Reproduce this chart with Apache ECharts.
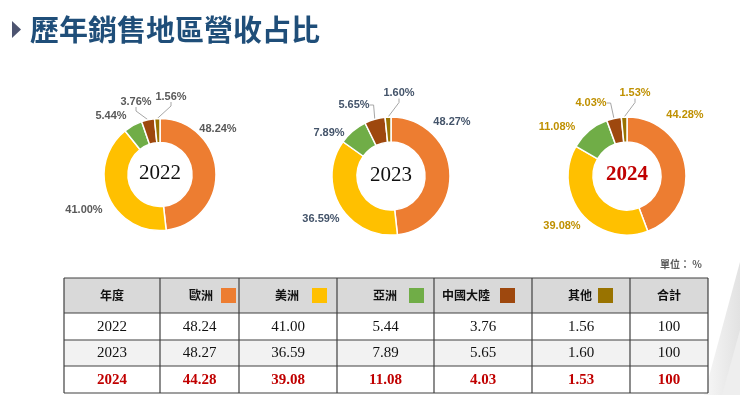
<!DOCTYPE html>
<html>
<head>
<meta charset="utf-8">
<script src="https://cdn.jsdelivr.net/npm/echarts@6/dist/echarts.min.js"></script>
<style>
html,body{margin:0;padding:0;background:#ffffff;}
#c{width:740px;height:395px;}
</style>
</head>
<body>
<div id="c"></div>
<script>
// ---- data ----
const years = ['2022', '2023', '2024'];
const regions = ['歐洲', '美洲', '亞洲', '中國大陸', '其他'];
const share2022 = [48.24, 41.00, 5.44, 3.76, 1.56];
const share2023 = [48.27, 36.59, 7.89, 5.65, 1.60];
const share2024 = [44.28, 39.08, 11.08, 4.03, 1.53];
const totals = [100, 100, 100];
const headerYear = '年度';
const headerTotal = '合計';
const titleText = '歷年銷售地區營收占比';
const unitText = '單位： %';

// ---- styles / layout ----
const sliceColors = ['#ED7D31', '#FFC000', '#70AD47', '#9E480E', '#997300'];
const labelColors = ['#595959', '#44546A', '#BF9000'];
const pieCenters = [[160, 174.5], [391, 176], [627, 176]];
const pieRadii = [[32, 56], [34, 59], [34, 59]];
const labelOffsets = [
  [[58, -46], [-76, 35], [-49, -59], [-24, -73], [11, -78]],
  [[61, -54], [-70, 43], [-62, -43], [-37, -71], [8, -83]],
  [[58, -61], [-65, 50], [-70, -49], [-36, -73], [8, -83]]
];
const colEdges = [64, 160, 239, 337, 434, 532, 630, 708];
const rowEdges = [278, 313, 340, 366, 393];
const swatchX = [null, 221, 312, 409, 500, 598, null];
const headerTextX = [112, 201, 287, 385, 466, 580, 669];

const allShares = [share2022, share2023, share2024];

const chart = echarts.init(document.getElementById('c'), null, {renderer: 'canvas'});

const series = years.map((y, k) => ({
  type: 'pie',
  center: pieCenters[k],
  radius: pieRadii[k],
  startAngle: 90,
  clockwise: true,
  avoidLabelOverlap: false,
  silent: true,
  itemStyle: {borderColor: '#ffffff', borderWidth: 1.5},
  label: {
    show: true,
    position: 'outside',
    color: labelColors[k],
    fontFamily: 'Liberation Sans, Arial, sans-serif',
    fontWeight: 'bold',
    fontSize: 11,
    formatter: p => p.value.toFixed(2) + '%'
  },
  labelLine: {show: true, length: 6, length2: 4, lineStyle: {color: '#A6A6A6', width: 1}},
  labelLayout: function (p) {
    const o = labelOffsets[k][p.dataIndex];
    return {x: pieCenters[k][0] + o[0], y: pieCenters[k][1] + o[1], align: 'center', verticalAlign: 'middle'};
  },
  emphasis: {disabled: true},
  data: regions.map((r, i) => ({
    name: r,
    value: allShares[k][i],
    itemStyle: {color: sliceColors[i]},
    labelLine: {show: i >= 3}
  }))
}));

const graphics = [];
// background decoration
graphics.push({type: 'polygon', silent: true, shape: {points: [[704, 395], [740, 262], [740, 395]]},
  style: {fill: new echarts.graphic.LinearGradient(0, 0, 1, 0, [{offset: 0, color: '#f7f7f7'}, {offset: 1, color: '#e2e2e2'}])}});
graphics.push({type: 'polygon', silent: true, shape: {points: [[722, 395], [740, 330], [740, 395]]},
  style: {fill: '#eeeeee'}});
// title
graphics.push({type: 'polygon', shape: {points: [[12, 21], [21, 29.5], [12, 38]]}, style: {fill: '#4D5470'}});
graphics.push({type: 'text', x: 30, y: 30, style: {text: titleText, fill: '#1F4E79',
  font: 'bold 29px "Noto Sans CJK TC", sans-serif', textAlign: 'left', textVerticalAlign: 'middle', align: 'left', verticalAlign: 'middle'}});
// center year labels
years.forEach((y, k) => {
  const last = k === years.length - 1;
  graphics.push({type: 'text', x: pieCenters[k][0], y: pieCenters[k][1] - 1, style: {
    text: y, fill: last ? '#C00000' : '#111111',
    font: (last ? 'bold ' : '') + '21px "Liberation Serif", "Times New Roman", serif',
    textAlign: 'center', textVerticalAlign: 'middle', align: 'center', verticalAlign: 'middle'}});
});
// unit
graphics.push({type: 'text', x: 702, y: 264, style: {text: unitText, fill: '#595959',
  font: 'bold 10px "Noto Sans CJK TC", sans-serif', textAlign: 'right', textVerticalAlign: 'middle', align: 'right', verticalAlign: 'middle'}});

// table backgrounds
const rowFills = ['#D9D9D9', '#FFFFFF', '#F2F2F2', '#FFFFFF'];
rowFills.forEach((f, r) => {
  graphics.push({type: 'rect', shape: {x: colEdges[0], y: rowEdges[r], width: colEdges[colEdges.length - 1] - colEdges[0], height: rowEdges[r + 1] - rowEdges[r]},
    style: {fill: f}});
});
// grid lines
rowEdges.forEach(yv => {
  graphics.push({type: 'line', shape: {x1: colEdges[0], y1: yv, x2: colEdges[colEdges.length - 1], y2: yv}, style: {stroke: '#404040', lineWidth: 1.2}});
});
colEdges.forEach(xv => {
  graphics.push({type: 'line', shape: {x1: xv, y1: rowEdges[0], x2: xv, y2: rowEdges[rowEdges.length - 1]}, style: {stroke: '#404040', lineWidth: 1.2}});
});
// header
const headers = [headerYear].concat(regions, [headerTotal]);
const hy = (rowEdges[0] + rowEdges[1]) / 2;
headers.forEach((h, c) => {
  graphics.push({type: 'text', x: headerTextX[c], y: hy, style: {text: h, fill: '#111111',
    font: 'bold 12px "Noto Sans CJK TC", sans-serif', textAlign: 'center', textVerticalAlign: 'middle', align: 'center', verticalAlign: 'middle'}});
  if (swatchX[c] != null) {
    graphics.push({type: 'rect', shape: {x: swatchX[c], y: hy - 7.5, width: 15, height: 15}, style: {fill: sliceColors[c - 1]}});
  }
});
// body rows
years.forEach((y, r) => {
  const last = r === years.length - 1;
  const cells = [y].concat(allShares[r].map(v => v.toFixed(2)), [String(totals[r])]);
  const cy = (rowEdges[r + 1] + rowEdges[r + 2]) / 2;
  cells.forEach((t, c) => {
    const cx = (colEdges[c] + colEdges[c + 1]) / 2;
    graphics.push({type: 'text', x: cx, y: cy + 0.5, style: {text: t, fill: last ? '#C00000' : '#111111',
      font: (last ? 'bold ' : '') + '15px "Liberation Serif", "Times New Roman", serif',
      textAlign: 'center', textVerticalAlign: 'middle', align: 'center', verticalAlign: 'middle'}});
  });
});

chart.setOption({
  backgroundColor: '#ffffff',
  animation: false,
  series: series,
  graphic: {elements: graphics}
});
</script>
</body>
</html>
